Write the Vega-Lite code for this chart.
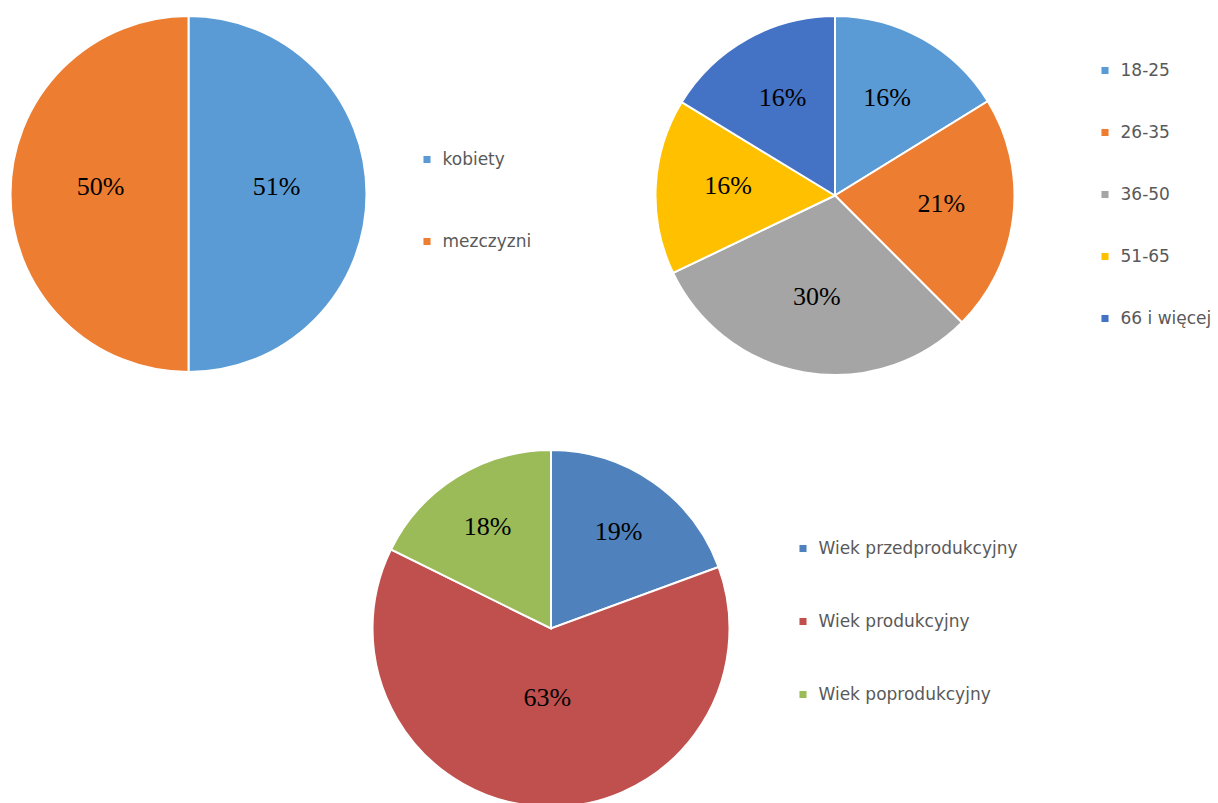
{
  "$schema": "https://vega.github.io/schema/vega-lite/v6.json",
  "background": "white",
  "padding": {"left": 6.5, "top": 12, "right": 0, "bottom": 0},
  "config": {
    "view": {"stroke": null},
    "legend": {
      "title": null,
      "symbolType": "square",
      "symbolSize": 50,
      "symbolStrokeWidth": 0,
      "labelFont": "DejaVu Sans",
      "labelFontSize": 17,
      "labelColor": "#595959",
      "labelOffset": 7,
      "labelLimit": 0,
      "orient": "none"
    }
  },
  "spacing": 434,
  "bounds": "flush",
  "resolve": {"scale": {"color": "independent", "theta": "independent"}, "legend": {"color": "independent"}},
  "vconcat": [
    {
      "spacing": 289,
      "bounds": "flush",
      "resolve": {"scale": {"color": "independent", "theta": "independent"}, "legend": {"color": "independent"}},
      "hconcat": [
        {
          "width": 356,
          "height": 356,
          "data": {"values": [
            {"idx": 1, "category": "kobiety", "value": 50.0, "label": "51%"},
            {"idx": 2, "category": "mezczyzni", "value": 50.0, "label": "50%"}
          ]},
          "encoding": {
            "theta": {"field": "value", "type": "quantitative", "stack": true},
            "order": {"field": "idx", "type": "quantitative"}
          },
          "layer": [
            {
              "mark": {"type": "arc", "stroke": "white", "strokeWidth": 2},
              "encoding": {
                "color": {
                  "field": "category", "type": "nominal", "sort": null,
                  "scale": {"domain": ["kobiety", "mezczyzni"], "range": ["#5B9BD5", "#ED7D31"]},
                  "legend": {"legendX": 408, "legendY": 135, "rowPadding": 64}
                }
              }
            },
            {
              "mark": {"type": "text", "radius": 88, "dy": -7, "font": "Liberation Serif", "fontSize": 26, "color": "black"},
              "encoding": {"text": {"field": "label"}}
            }
          ]
        },
        {
          "width": 359,
          "height": 359,
          "data": {"values": [
            {"idx": 1, "category": "18-25", "value": 16.2, "label": "16%"},
            {"idx": 2, "category": "26-35", "value": 21.3, "label": "21%"},
            {"idx": 3, "category": "36-50", "value": 30.4, "label": "30%"},
            {"idx": 4, "category": "51-65", "value": 15.8, "label": "16%"},
            {"idx": 5, "category": "66 i więcej", "value": 16.3, "label": "16%"}
          ]},
          "encoding": {
            "theta": {"field": "value", "type": "quantitative", "stack": true},
            "order": {"field": "idx", "type": "quantitative"}
          },
          "layer": [
            {
              "mark": {"type": "arc", "stroke": "white", "strokeWidth": 2},
              "encoding": {
                "color": {
                  "field": "category", "type": "nominal", "sort": null,
                  "scale": {"domain": ["18-25", "26-35", "36-50", "51-65", "66 i więcej"], "range": ["#5B9BD5", "#ED7D31", "#A5A5A5", "#FFC000", "#4472C4"]},
                  "legend": {"legendX": 441, "legendY": 46, "rowPadding": 44}
                }
              }
            },
            {
              "mark": {"type": "text", "radius": 107, "dy": -4, "font": "Liberation Serif", "fontSize": 26, "color": "black"},
              "encoding": {"text": {"field": "label"}}
            }
          ]
        }
      ]
    },
    {
      "spacing": 0,
      "bounds": "flush",
      "resolve": {"scale": {"color": "independent", "theta": "independent"}, "legend": {"color": "independent"}},
      "hconcat": [
        {
          "width": 362,
          "height": 10,
          "data": {"values": []},
          "mark": "point"
        },
        {
          "width": 357,
          "height": 357,
          "data": {"values": [
            {"idx": 1, "category": "Wiek przedprodukcyjny", "value": 19.4, "label": "19%"},
            {"idx": 2, "category": "Wiek produkcyjny", "value": 62.9, "label": "63%"},
            {"idx": 3, "category": "Wiek poprodukcyjny", "value": 17.7, "label": "18%"}
          ]},
          "encoding": {
            "theta": {"field": "value", "type": "quantitative", "stack": true},
            "order": {"field": "idx", "type": "quantitative"}
          },
          "layer": [
            {
              "mark": {"type": "arc", "stroke": "white", "strokeWidth": 2},
              "encoding": {
                "color": {
                  "field": "category", "type": "nominal", "sort": null,
                  "scale": {"domain": ["Wiek przedprodukcyjny", "Wiek produkcyjny", "Wiek poprodukcyjny"], "range": ["#4F81BD", "#C0504D", "#9BBB59"]},
                  "legend": {"legendX": 422, "legendY": 90, "rowPadding": 55}
                }
              }
            },
            {
              "mark": {"type": "text", "font": "Liberation Serif", "fontSize": 26, "color": "black"},
              "encoding": {
                "text": {"field": "label"},
                "radius": {"field": "value", "type": "quantitative", "scale": {"type": "linear", "domain": [17.7, 62.9], "range": [120, 70], "zero": false}}
              }
            }
          ]
        }
      ]
    }
  ]
}
